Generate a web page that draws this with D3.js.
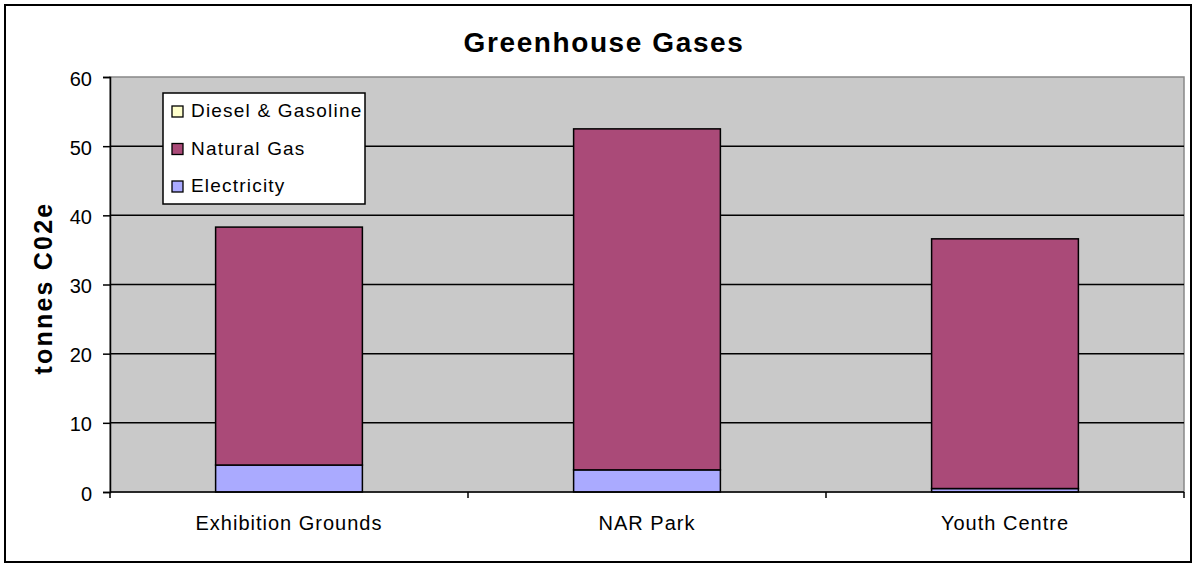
<!DOCTYPE html>
<html><head><meta charset="utf-8">
<script src="https://cdn.jsdelivr.net/npm/d3@7"></script>
<style>body{margin:0;background:#fff}text{font-family:"Liberation Sans",Arial,sans-serif}</style>
</head><body>
<svg id="c" width="1196" height="567"></svg>
<script>
const categories = ["Exhibition Grounds", "NAR Park", "Youth Centre"];
const seriesNames = ["Electricity", "Natural Gas", "Diesel & Gasoline"];
const electricity = [3.9, 3.2, 0.5];
const naturalGas = [34.4, 49.3, 36.1];
const diesel = [0, 0, 0];
const yTicks = [0, 10, 20, 30, 40, 50, 60];
const colors = ["#aaaaff", "#aa4a78", "#ffffcc"];

const svg = d3.select("#c");
svg.append("rect").attr("x",5).attr("y",5).attr("width",1186).attr("height",557)
  .attr("fill","#fff").attr("stroke","#000").attr("stroke-width",2);

const m = {l:110, t:77, r:1184, b:492};
const x = d3.scaleBand().domain(categories).range([m.l, m.r]).paddingInner(0.59).paddingOuter(0.295);
const xb = d3.scaleBand().domain(categories).range([m.l, m.r]);
const y = d3.scaleLinear().domain([0,60]).range([m.b, m.t]);

svg.append("rect").attr("x",m.l).attr("y",m.t).attr("width",m.r-m.l).attr("height",m.b-m.t)
  .attr("fill","#c9c9c9").attr("stroke","#888").attr("stroke-width",1.5);

// gridlines
svg.append("g").selectAll("line").data(yTicks.filter(d=>d>0 && d<60)).join("line")
  .attr("x1",m.l).attr("x2",m.r).attr("y1",d=>y(d)).attr("y2",d=>y(d))
  .attr("stroke","#000").attr("stroke-width",1.5);

const data = categories.map((c,i)=>({cat:c, Electricity:electricity[i], "Natural Gas":naturalGas[i], "Diesel & Gasoline":diesel[i]}));
const stack = d3.stack().keys(seriesNames)(data);
svg.append("g").selectAll("g").data(stack).join("g").attr("fill",(d,i)=>colors[i])
  .selectAll("rect").data(d=>d.filter(p=>p[1]-p[0]>0)).join("rect")
  .attr("x",d=>x(d.data.cat)).attr("width",x.bandwidth())
  .attr("y",d=>y(d[1])).attr("height",d=>y(d[0])-y(d[1]))
  .attr("stroke","#000").attr("stroke-width",1.5);

// axes
const ya = svg.append("g").attr("transform",`translate(${m.l},0)`)
  .call(d3.axisLeft(y).tickValues(yTicks).tickSize(7).tickPadding(11).tickFormat(d3.format("d")));
ya.select(".domain").attr("stroke","#000").attr("stroke-width",1.5);
ya.selectAll("line").attr("stroke-width",1.5);
ya.selectAll("text").attr("font-size",20).attr("fill","#000").attr("dy","0.4em").attr("font-family","Liberation Sans, Arial, sans-serif");

svg.append("line").attr("x1",m.l).attr("x2",m.r).attr("y1",m.b).attr("y2",m.b).attr("stroke","#000").attr("stroke-width",1.5);
const bounds = [m.l, ...categories.map(c=>xb(c)+xb.bandwidth())];
svg.append("g").selectAll("line").data(bounds).join("line")
  .attr("x1",d=>d).attr("x2",d=>d).attr("y1",m.b).attr("y2",m.b+6).attr("stroke","#000").attr("stroke-width",1.5);
svg.append("g").selectAll("text").data(categories).join("text")
  .attr("x",d=>xb(d)+xb.bandwidth()/2).attr("y",530).attr("text-anchor","middle")
  .attr("font-size",20).attr("letter-spacing",1).text(d=>d);

svg.append("text").attr("x",604).attr("y",52).attr("text-anchor","middle")
  .attr("font-size",28).attr("font-weight","bold").attr("letter-spacing",1.6).text("Greenhouse Gases");
svg.append("text").attr("transform","translate(52,288) rotate(-90)").attr("text-anchor","middle")
  .attr("font-size",25).attr("font-weight","bold").attr("letter-spacing",2.2).text("tonnes C02e");

// legend
const lg = svg.append("g");
lg.append("rect").attr("x",163).attr("y",93).attr("width",202).attr("height",111)
  .attr("fill","#fff").attr("stroke","#000").attr("stroke-width",1.5);
const legItems = seriesNames.slice().reverse();
lg.selectAll("g.it").data(legItems).join("g").attr("class","it")
  .attr("transform",(d,i)=>`translate(172,${117+i*37.5})`)
  .each(function(d){
    const g=d3.select(this); const ci = seriesNames.indexOf(d);
    g.append("rect").attr("x",0).attr("y",-11).attr("width",11).attr("height",11)
      .attr("fill",colors[ci]).attr("stroke","#000").attr("stroke-width",1.3);
    g.append("text").attr("x",19).attr("y",0).attr("font-size",19).attr("letter-spacing",1.2).text(d);
  });
</script>
</body></html>
